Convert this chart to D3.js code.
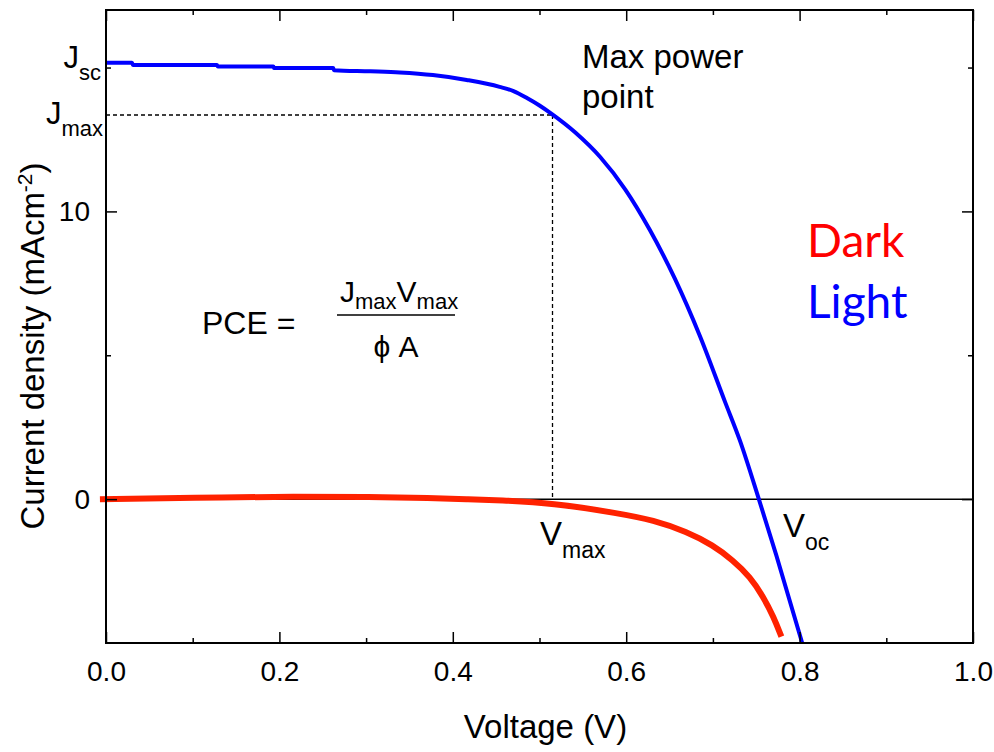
<!DOCTYPE html>
<html>
<head>
<meta charset="utf-8">
<script src="https://cdn.jsdelivr.net/npm/d3@7"></script>
<style>
    body { margin: 0; background: #fff; }
    text { font-family: "Liberation Sans", Arial, sans-serif; fill: #000; }
    .legend { font-family: Lato, "Open Sans", sans-serif; }
</style>
</head>
<body>
<svg id="chart" width="994" height="752"></svg>
<script>
// light J-V curve (V, mA/cm2)
let lightV = [0, 0.030, 0.031, 0.128, 0.129, 0.193, 0.194, 0.262, 0.263, 0.305, 0.339, 0.377, 0.416, 0.454, 0.470, 0.486, 0.500, 0.514, 0.541, 0.570, 0.599, 0.627, 0.656, 0.685, 0.714, 0.731, 0.753, 0.773, 0.803];
let lightJ = [15.17, 15.17, 15.09, 15.09, 15.04, 15.04, 14.98, 14.98, 14.91, 14.87, 14.83, 14.74, 14.57, 14.33, 14.18, 13.93, 13.68, 13.39, 12.75, 11.89, 10.76, 9.37, 7.67, 5.67, 3.38, 2.05, 0.00, -1.94, -5.00];

// dark J-V curve
let darkV = [-0.007, 0.100, 0.224, 0.300, 0.377, 0.416, 0.454, 0.514, 0.593, 0.631, 0.670, 0.700, 0.723, 0.743, 0.758, 0.770, 0.779];
let darkJ = [0.00, 0.05, 0.09, 0.08, 0.04, 0.00, -0.04, -0.13, -0.50, -0.73, -1.13, -1.60, -2.12, -2.70, -3.39, -4.09, -4.78];

// max power point
let vMax = 0.515;
let jMax = 13.35;

let xTicks = [0, 0.2, 0.4, 0.6, 0.8, 1.0];
let xMinor = [0.1, 0.3, 0.5, 0.7, 0.9];
let yTicks = [0, 10];
let yMinor = [5, 15];

let svg = d3.select("#chart");
let pLeft = 106, pRight = 973, pTop = 10, pBottom = 643;

let x = d3.scaleLinear().domain([0, 1]).range([pLeft, pRight]);
let y = d3.scaleLinear().domain([-5, 17]).range([pBottom, pTop]);

// clip so the curves stay inside the frame
svg.append("clipPath").attr("id", "plotClip")
    .append("rect")
    .attr("x", pLeft - 8).attr("y", pTop)
    .attr("width", pRight - pLeft + 8).attr("height", pBottom - pTop);

// zero line
svg.append("line")
    .attr("x1", pLeft).attr("x2", pRight)
    .attr("y1", y(0)).attr("y2", y(0))
    .attr("stroke", "#000").attr("stroke-width", 1.5);

// dashed guides to the max power point
svg.append("line")
    .attr("x1", x(0)).attr("x2", x(vMax))
    .attr("y1", y(jMax)).attr("y2", y(jMax))
    .attr("stroke", "#000").attr("stroke-width", 1.3)
    .attr("stroke-dasharray", "4,3");
svg.append("line")
    .attr("x1", x(vMax)).attr("x2", x(vMax))
    .attr("y1", y(jMax)).attr("y2", y(0))
    .attr("stroke", "#000").attr("stroke-width", 1.3)
    .attr("stroke-dasharray", "4,3");

let line = d3.line()
    .x(d => x(d[0]))
    .y(d => y(d[1]));

svg.append("path")
    .datum(darkV.map((v, i) => [v, darkJ[i]]))
    .attr("d", line.curve(d3.curveBasis))
    .attr("clip-path", "url(#plotClip)")
    .attr("fill", "none")
    .attr("stroke", "#ff2200")
    .attr("stroke-width", 6);

svg.append("path")
    .datum(lightV.map((v, i) => [v, lightJ[i]]))
    .attr("d", line.curve(d3.curveMonotoneX))
    .attr("clip-path", "url(#plotClip)")
    .attr("fill", "none")
    .attr("stroke", "#0000ff")
    .attr("stroke-width", 4);

// axes, ticks inward on all four sides
let tickFont = "28px";
svg.append("g")
    .attr("transform", `translate(0,${pBottom})`)
    .call(d3.axisBottom(x).tickValues(xTicks).tickSize(-11).tickPadding(18).tickFormat(d3.format(".1f")))
    .call(g => g.selectAll("text").style("font-size", tickFont));
svg.append("g")
    .attr("transform", `translate(0,${pBottom})`)
    .call(d3.axisBottom(x).tickValues(xMinor).tickSize(-5).tickFormat(""));
svg.append("g")
    .attr("transform", `translate(0,${pTop})`)
    .call(d3.axisTop(x).tickValues(xTicks).tickSize(-11).tickFormat(""));
svg.append("g")
    .attr("transform", `translate(0,${pTop})`)
    .call(d3.axisTop(x).tickValues(xMinor).tickSize(-5).tickFormat(""));

svg.append("g")
    .attr("transform", `translate(${pLeft},0)`)
    .call(d3.axisLeft(y).tickValues(yTicks).tickSize(-11).tickPadding(16).tickFormat(d3.format("d")))
    .call(g => g.selectAll("text").style("font-size", tickFont));
svg.append("g")
    .attr("transform", `translate(${pLeft},0)`)
    .call(d3.axisLeft(y).tickValues(yMinor).tickSize(-5).tickFormat(""));
svg.append("g")
    .attr("transform", `translate(${pRight},0)`)
    .call(d3.axisRight(y).tickValues(yTicks).tickSize(-11).tickFormat(""));
svg.append("g")
    .attr("transform", `translate(${pRight},0)`)
    .call(d3.axisRight(y).tickValues(yMinor).tickSize(-5).tickFormat(""));

svg.selectAll(".domain").remove();
svg.selectAll(".tick line").attr("stroke", "#000").attr("stroke-width", 1.5);
svg.selectAll(".tick text").attr("fill", "#000").style("font-family", "Liberation Sans, Arial, sans-serif");

// frame
svg.append("rect")
    .attr("x", pLeft).attr("y", pTop)
    .attr("width", pRight - pLeft).attr("height", pBottom - pTop)
    .attr("fill", "none").attr("stroke", "#000").attr("stroke-width", 2);

// label with subscript helper
function subLabel(px, py, main, sub, size, subSize, anchor) {
    let t = svg.append("text")
        .attr("x", px).attr("y", py)
        .attr("text-anchor", anchor || "start")
        .style("font-size", size + "px");
    t.append("tspan").text(main);
    t.append("tspan").attr("dy", size * 0.38).style("font-size", subSize + "px").text(sub);
    return t;
}

subLabel(101, 68, "J", "sc", 31, 22, "end");
subLabel(103, 124, "J", "max", 31, 22, "end");
subLabel(540, 545, "V", "max", 33, 23);
subLabel(783, 537, "V", "oc", 33, 23);

svg.append("text").attr("x", 582).attr("y", 68).style("font-size", "33px").text("Max power");
svg.append("text").attr("x", 582).attr("y", 108).style("font-size", "33px").text("point");

// PCE formula
svg.append("text").attr("x", 202).attr("y", 334).style("font-size", "32px").text("PCE =");
let num = svg.append("text").attr("x", 340).attr("y", 302).style("font-size", "30px");
num.append("tspan").text("J");
num.append("tspan").attr("dy", 7).style("font-size", "22px").text("max");
num.append("tspan").attr("dy", -7).text("V");
num.append("tspan").attr("dy", 7).style("font-size", "22px").text("max");
svg.append("line")
    .attr("x1", 337).attr("x2", 455)
    .attr("y1", 315).attr("y2", 315)
    .attr("stroke", "#000").attr("stroke-width", 1.5);
svg.append("text").attr("x", 396).attr("y", 357).attr("text-anchor", "middle")
    .style("font-size", "30px").text("\u03d5 A");

// legend words
svg.append("text").attr("class", "legend").attr("x", 807).attr("y", 257)
    .style("font-size", "46px").style("fill", "#ff0000").text("Dark");
svg.append("text").attr("class", "legend").attr("x", 807).attr("y", 318)
    .style("font-size", "46px").style("fill", "#0000ff").text("Light");

// axis titles
svg.append("text")
    .attr("x", (pLeft + pRight) / 2 + 6).attr("y", 738)
    .attr("text-anchor", "middle")
    .style("font-size", "33px")
    .text("Voltage (V)");

let yt = svg.append("text")
    .attr("transform", "translate(44,346) rotate(-90)")
    .attr("text-anchor", "middle")
    .style("font-size", "33px");
yt.append("tspan").text("Current density (mAcm");
yt.append("tspan").attr("dy", -12).style("font-size", "21px").text("-2");
yt.append("tspan").attr("dy", 12).text(")");
</script>
</body>
</html>
